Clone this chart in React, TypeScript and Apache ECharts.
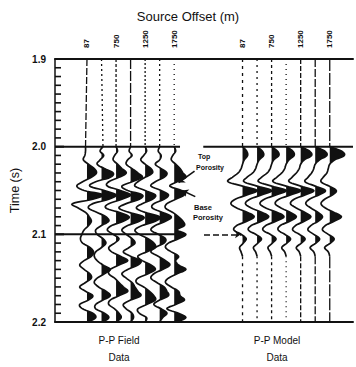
import { useEffect, useRef } from "react";
import * as echarts from "echarts";

// Time axis (two-way time, seconds)
const TIME_MIN = 1.9;
const TIME_MAX = 2.2;
const TIME_STEP = 0.1;
const TIME_MINOR_STEP = 0.01;

// Wavelet samples start at 2.000 s and are 5 ms apart
const WAVE_START = 2.0;
const SAMPLE_INTERVAL = 0.005;

// Source offsets printed above the traces (on traces 1, 3, 5, 7 of each gather)
const SOURCE_OFFSETS = ["87", "750", "1250", "1750"];
const LABELLED_TRACES = [0, 2, 4, 6];

// Horizons marked across the sections
const TOP_POROSITY = 2.0;
const BASE_POROSITY = 2.1;

// P-P field gather: amplitudes (in trace spacings), 2.000 s to 2.200 s
const field1 = [-0.1, -0.1, -0.15, -0.25, 0.1, 0.5, 0.65, 0.3, -0.3, -0.7, -0.2, 1.1, 0.4, -1.0, -0.6, -0.1, 0.15, 0.3, 0.1, -0.2, -0.35, -0.45, -0.3, 0.2, 0.45, 0.3, -0.2, -0.5, -0.2, 0.2, 0.3, -0.1, -0.5, -0.1, 0.4, 0.1, -0.5, -0.3, 0.4, 0.6, 0.1];
const field2 = [0.1, -0.1, 0.15, -0.1, -0.3, 0.2, 0.8, 0.6, -0.4, -0.8, 0.2, 1.0, 0.5, -0.6, -0.9, -0.3, 0.3, 0.5, 0.0, -0.4, -0.3, 0.1, 0.3, 0.0, -0.4, -0.5, -0.3, 0.1, 0.6, 0.2, -0.3, -0.5, -0.2, 0.3, 0.6, 0.1, -0.4, -0.4, 0.2, 0.5, 0.1];
const field3 = [0, 0.1, -0.1, -0.2, 0.1, 0.4, 0.7, 0.2, -0.5, -0.6, 0.3, 1.0, 0.4, -0.5, -0.7, 0.2, 0.9, 0.5, -0.3, -0.6, -0.2, 0.2, -0.1, -0.5, -0.3, 0.3, 0.8, 0.2, -0.4, -0.5, -0.1, 0.2, 0.5, 0.8, 0.2, -0.4, -0.5, -0.1, 0.2, 0.35, 0];
const field4 = [0, -0.1, 0.1, -0.2, -0.3, 0.1, 0.5, 0.8, 0.1, -0.6, -0.2, 0.8, 0.6, -0.3, -0.8, -0.1, 0.9, 0.6, -0.2, -0.6, -0.3, 0.1, 0.3, -0.1, -0.5, 0.0, 0.7, 0.5, -0.2, -0.6, -0.3, 0.1, 0.3, 0.5, 0.7, 0.0, -0.5, -0.3, 0.1, 0.2, 0];
const field5 = [0, 0.1, -0.1, -0.3, 0.0, 0.4, 0.5, 0.0, -0.5, -0.7, 0.0, 0.7, 0.5, -0.2, -0.6, 0.0, 1.0, 0.7, -0.2, -0.7, -0.4, 0.2, 0.6, 0.7, 0.1, -0.5, -0.2, 0.4, 0.7, 0.2, -0.5, -0.6, -0.1, 0.3, 0.6, 0.7, 0.1, -0.5, -0.4, 0.1, 0];
const field6 = [0, -0.1, 0.1, 0, -0.3, 0.1, 0.5, 0.3, -0.3, -0.6, 0.1, 0.6, 0.3, -0.4, -0.5, 0.2, 0.8, 0.4, -0.3, -0.6, -0.1, 0.4, 0.3, -0.3, -0.6, -0.1, 0.4, 0.7, 0.2, -0.4, -0.6, -0.2, 0.3, 0.5, 0.6, 0.0, -0.4, 0.1, 0.5, 0.2, 0];
const field7 = [0, 0.1, -0.1, -0.2, 0.1, 0.4, 0.6, 0.8, 0.2, -0.3, 0.5, 0.7, 0.1, -0.5, -0.6, -0.1, 0.3, 0.6, 0.7, 0.2, 0.8, 0.3, -0.4, -0.6, -0.2, 0.3, 0.1, 0.3, 0.8, 0.2, -0.4, -0.6, -0.2, 0.3, 0.4, 0.7, 0.1, -0.5, 0.3, 0.8, 0.2];

// P-P model gather: amplitudes, 2.000 s to 2.125 s (quiet afterwards)
const model1 = [0, 0.28, 0.35, 0.12, 0, -0.1, -0.3, -0.7, -1.0, 0.0, 1.0, 0.3, -0.5, -0.8, -0.4, 0.35, 0.8, 0.3, -0.4, -0.6, -0.1, 0.25, 0.05, -0.2, -0.1, 0];
const model2 = [0, 0.36, 0.45, 0.15, 0, -0.1, -0.3, -0.7, -0.9, 0.0, 1.0, 0.3, -0.5, -0.8, -0.4, 0.35, 0.8, 0.3, -0.4, -0.6, -0.1, 0.3, 0.05, -0.25, -0.1, 0];
const model3 = [0, 0.4, 0.5, 0.15, 0, -0.1, -0.3, -0.7, -0.9, 0.0, 1.0, 0.3, -0.5, -0.8, -0.4, 0.4, 0.85, 0.3, -0.4, -0.6, -0.1, 0.3, 0.05, -0.25, -0.1, 0];
const model4 = [0, 0.45, 0.55, 0.2, 0, -0.1, -0.3, -0.65, -0.9, 0.0, 1.0, 0.3, -0.5, -0.75, -0.35, 0.3, 0.7, 0.25, -0.4, -0.55, -0.1, 0.3, 0.05, -0.3, -0.1, 0];
const model5 = [0, 0.6, 0.75, 0.25, 0, -0.1, -0.3, -0.6, -0.8, 0.0, 0.9, 0.3, -0.45, -0.7, -0.3, 0.3, 0.7, 0.25, -0.35, -0.55, -0.1, 0.3, 0.05, -0.3, -0.1, 0];
const model6 = [0, 0.65, 0.8, 0.3, 0, -0.1, -0.25, -0.5, -0.7, 0.0, 0.7, 0.25, -0.4, -0.65, -0.3, 0.2, 0.5, 0.2, -0.3, -0.5, -0.1, 0.3, 0.05, -0.35, -0.1, 0];
const model7 = [0, 0.8, 1.0, 0.35, 0, -0.1, -0.2, -0.45, -0.6, -0.05, 0.45, 0.2, -0.35, -0.6, -0.3, 0.3, 0.8, 0.3, -0.3, -0.5, -0.1, 0.3, 0.05, -0.35, -0.1, 0];

const FIELD_GATHER = [field1, field2, field3, field4, field5, field6, field7];
const MODEL_GATHER = [model1, model2, model3, model4, model5, model6, model7];

// ---- layout & style ----
const INK = "#111";
const FONT = "'Liberation Sans', Arial, sans-serif";
const X_MAX = 20.5; // horizontal axis in trace spacings
const FIELD_FIRST = 2.2;
const MODEL_FIRST = 12.9;
const FIELD_DASH = [[7, 2], [2, 3], [3, 2], [10, 2], [2, 2], [2, 3], [1, 4]];
const MODEL_DASH = [[3, 4], [2, 4], [3, 3], [1, 4], [5, 2], [8, 2], [12, 2]];

type Trace = { pos: number; amps: number[]; dash: number[] };

const TRACES: Trace[] = [
  ...FIELD_GATHER.map((amps, i) => ({ pos: FIELD_FIRST + i, amps, dash: FIELD_DASH[i] })),
  ...MODEL_GATHER.map((amps, i) => ({ pos: MODEL_FIRST + i, amps, dash: MODEL_DASH[i] })),
];

// 10 ms tick positions along the time axis
const TICK_COUNT = Math.round((TIME_MAX - TIME_MIN) / TIME_MINOR_STEP);
const TIME_TICKS = Array.from({ length: TICK_COUNT + 1 }, (_, i) => TIME_MIN + i * TIME_MINOR_STEP);

// Smooth drawing curve through the sampled points (Catmull-Rom)
function smoothCurve(pts: number[][], steps: number): number[][] {
  const out: number[][] = [];
  const n = pts.length;
  for (let i = 0; i < n - 1; i++) {
    const p0 = pts[Math.max(0, i - 1)];
    const p1 = pts[i];
    const p2 = pts[i + 1];
    const p3 = pts[Math.min(n - 1, i + 2)];
    for (let s = 0; s < steps; s++) {
      const t = s / steps;
      const t2 = t * t;
      const t3 = t2 * t;
      const f = (a: number, b: number, c: number, d: number) =>
        0.5 * (2 * b + (-a + c) * t + (2 * a - 5 * b + 4 * c - d) * t2 + (-a + 3 * b - 3 * c + d) * t3);
      out.push([f(p0[0], p1[0], p2[0], p3[0]), f(p0[1], p1[1], p2[1], p3[1])]);
    }
  }
  out.push(pts[n - 1]);
  return out;
}

// Positive (right-hand) lobes closed against the trace baseline
function positiveLobes(curve: number[][], bx: number): number[][][] {
  const lobes: number[][][] = [];
  let cur: number[][] | null = null;
  for (let j = 0; j < curve.length; j++) {
    const p = curve[j];
    const d = p[0] - bx;
    if (d > 0) {
      if (!cur) {
        if (j > 0) {
          const q = curve[j - 1];
          const dq = q[0] - bx;
          const f = dq / (dq - d);
          cur = [[bx, q[1] + (p[1] - q[1]) * f]];
        } else {
          cur = [[bx, p[1]]];
        }
      }
      cur.push(p);
    } else if (cur) {
      const q = curve[j - 1];
      const dq = q[0] - bx;
      const f = dq / (dq - d);
      cur.push([bx, q[1] + (p[1] - q[1]) * f]);
      lobes.push(cur);
      cur = null;
    }
  }
  if (cur) {
    cur.push([bx, curve[curve.length - 1][1]]);
    lobes.push(cur);
  }
  return lobes;
}

function renderTrace(params: any, api: any) {
  const tr = TRACES[params.dataIndex];
  const top = api.coord([tr.pos, TIME_MIN]);
  const bx = top[0];
  const pts = tr.amps.map((a, k) => api.coord([tr.pos + a, WAVE_START + k * SAMPLE_INTERVAL]));
  const curve = smoothCurve(pts, 6);
  const children: any[] = [];
  children.push({
    type: "line",
    shape: { x1: bx, y1: top[1], x2: pts[0][0], y2: pts[0][1] },
    style: { stroke: INK, lineWidth: 1.3, lineDash: tr.dash },
  });
  const lastT = WAVE_START + (tr.amps.length - 1) * SAMPLE_INTERVAL;
  if (lastT < TIME_MAX - 1e-9) {
    const bot = api.coord([tr.pos, TIME_MAX]);
    const last = pts[pts.length - 1];
    children.push({
      type: "line",
      shape: { x1: last[0], y1: last[1], x2: bot[0], y2: bot[1] },
      style: { stroke: INK, lineWidth: 1.3, lineDash: tr.dash },
    });
  }
  positiveLobes(curve, bx).forEach((poly) => {
    children.push({ type: "polygon", shape: { points: poly }, style: { fill: INK } });
  });
  children.push({
    type: "polyline",
    shape: { points: curve },
    style: { stroke: INK, lineWidth: 1.7, fill: null },
  });
  return { type: "group", children };
}

// Inward tick marks on the time axis every 10 ms (longer every 100 ms)
function renderTicks(_params: any, api: any) {
  const children = TIME_TICKS.map((t, i) => {
    const p = api.coord([0, t]);
    const major = i % 10 === 0;
    return {
      type: "line",
      shape: { x1: p[0], y1: p[1], x2: p[0] + (major ? 9 : 6), y2: p[1] },
      style: { stroke: INK, lineWidth: major ? 2 : 1.6 },
    };
  });
  return { type: "group", children };
}

function segment(name: string, x0: number, x1: number, t: number, width = 2) {
  return {
    name,
    type: "line",
    data: [
      [x0, t],
      [x1, t],
    ],
    symbol: "none",
    silent: true,
    lineStyle: { color: INK, width },
    z: 3,
  };
}

function pointer(from: number[], to: number[], dashed = false) {
  return [
    { coord: from, symbol: "none" },
    { coord: to, symbol: "arrow", symbolSize: 6, lineStyle: { type: dashed ? [6, 3] : "solid" } },
  ];
}

export default function App() {
  const ref = useRef<HTMLDivElement>(null);

  useEffect(() => {
    if (!ref.current) return;
    const chart = echarts.init(ref.current, null, { renderer: "svg" });

    chart.setOption({
      animation: false,
      backgroundColor: "#fff",
      grid: { left: 55, right: 3, top: 59, bottom: 45 },
      xAxis: [
        {
          type: "value",
          min: 0,
          max: X_MAX,
          position: "bottom",
          axisLine: { show: true, onZero: false, lineStyle: { color: INK, width: 2 } },
          axisTick: { show: false },
          axisLabel: { show: false },
          splitLine: { show: false },
        },
        {
          type: "value",
          min: 0,
          max: X_MAX,
          position: "top",
          axisLine: { show: true, onZero: false, lineStyle: { color: INK, width: 2 } },
          axisTick: { show: false },
          axisLabel: { show: false },
          splitLine: { show: false },
        },
      ],
      yAxis: {
        type: "value",
        inverse: true,
        min: TIME_MIN,
        max: TIME_MAX,
        interval: TIME_STEP,
        name: "Time (s)",
        nameLocation: "middle",
        nameRotate: 90,
        nameGap: 30,
        nameTextStyle: { color: INK, fontSize: 12.5, fontFamily: FONT },
        axisLine: { show: true, onZero: false, lineStyle: { color: INK, width: 1.5 } },
        axisTick: { show: false },
        axisLabel: {
          color: INK,
          fontSize: 10,
          fontWeight: "bold",
          fontFamily: FONT,
          margin: 9,
          formatter: (v: number) => v.toFixed(1),
        },
        splitLine: { show: false },
      },
      series: [
        {
          type: "custom",
          renderItem: renderTraceOrTicks,
          data: [[0, TIME_MIN], ...TRACES.map((t) => [t.pos, WAVE_START])],
          encode: { x: 0, y: 1 },
          clip: false,
          silent: true,
          z: 2,
        },
        segment("top-field", 0, 8.6, TOP_POROSITY),
        segment("top-model", 10.2, X_MAX, TOP_POROSITY),
        segment("base-field", 0, 8.9, BASE_POROSITY),
        {
          type: "line",
          data: [],
          silent: true,
          markLine: {
            silent: true,
            animation: false,
            label: { show: false },
            lineStyle: { color: INK, width: 1.6, type: "solid" },
            data: [
              pointer([10.25, BASE_POROSITY], [12.8, BASE_POROSITY], true),
              pointer([9.6, 2.028], [8.5, 2.041]),
              pointer([9.65, 2.057], [8.75, 2.05]),
            ],
          },
        },
      ],
    });

    // Offset labels above the labelled traces, plus the annotation texts
    const labelTexts: any[] = [];
    [FIELD_FIRST, MODEL_FIRST].forEach((first) => {
      LABELLED_TRACES.forEach((ti, li) => {
        const [px, py] = chart.convertToPixel({ xAxisIndex: 0, yAxisIndex: 0 }, [first + ti, TIME_MIN]);
        labelTexts.push({
          type: "text",
          x: px,
          y: py - 11,
          rotation: Math.PI / 2,
          style: {
            text: SOURCE_OFFSETS[li],
            fill: INK,
            font: `bold 8px ${FONT}`,
            align: "left",
            verticalAlign: "middle",
          },
        });
      });
    });

    const txt = (text: string, x: number, y: number, size: number, weight = "normal", align = "center") => ({
      type: "text",
      x,
      y,
      style: { text, fill: INK, font: `${weight} ${size}px ${FONT}`, align, verticalAlign: "middle" },
    });

    chart.setOption({
      graphic: [
        txt("Source Offset (m)", 188, 16, 13),
        txt("Top", 198, 156, 7, "bold", "left"),
        txt("Porosity", 196, 167, 7, "bold", "left"),
        txt("Base", 194, 207, 7.5, "bold", "left"),
        txt("Porosity", 193, 217, 7.5, "bold", "left"),
        txt("P-P Field", 119, 340, 10),
        txt("Data", 119, 357, 10),
        txt("P-P Model", 277, 340, 10),
        txt("Data", 277, 357, 10),
        ...labelTexts,
      ],
    });

    return () => chart.dispose();
  }, []);

  return <div ref={ref} style={{ position: "fixed", left: 0, top: 0, width: 356, height: 367 }} />;
}

// Item 0 draws the time-axis ticks; the remaining items are the traces
function renderTraceOrTicks(params: any, api: any) {
  if (params.dataIndex === 0) return renderTicks(params, api);
  return renderTrace({ ...params, dataIndex: params.dataIndex - 1 }, api);
}
